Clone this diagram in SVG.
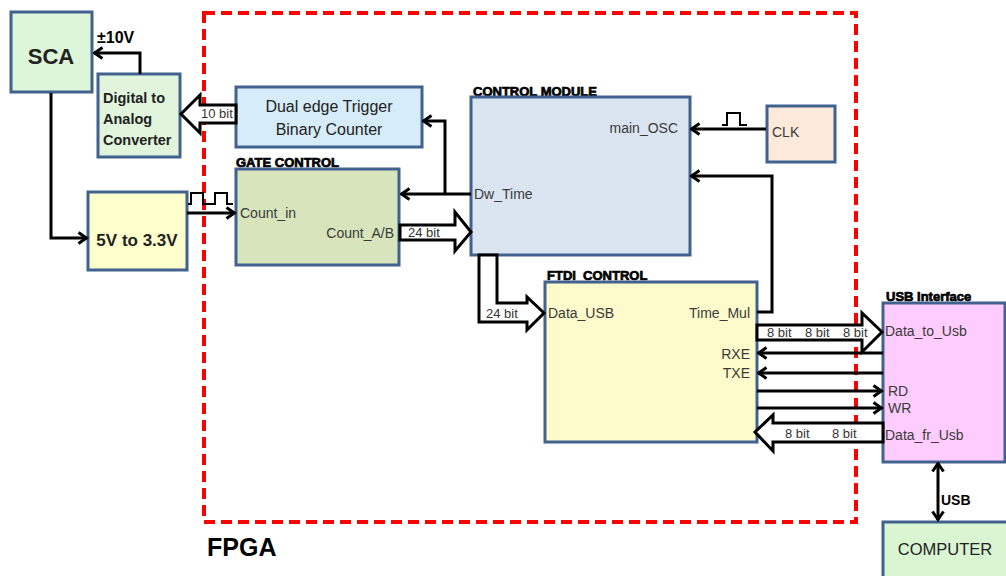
<svg xmlns="http://www.w3.org/2000/svg" width="1006" height="576" viewBox="0 0 1006 576">
<defs>
<style>
.box{stroke:#41628e;stroke-width:3}
.lbl{font-family:"Liberation Sans",Arial,sans-serif;font-size:14px;fill:#3a3a3a}
.big{font-family:"Liberation Sans",Arial,sans-serif;fill:#222}
.ttl{font-family:"Liberation Sans",Arial,sans-serif;font-size:13px;font-weight:bold;fill:#000;stroke:#000;stroke-width:0.7}
.bit{font-family:"Liberation Sans",Arial,sans-serif;font-size:13px;fill:#333}
.ln{fill:none;stroke:#000;stroke-width:3}
.pulse{fill:none;stroke:#000;stroke-width:2}
.hol{fill:#fff;stroke:#000;stroke-width:3;stroke-linejoin:miter}
</style>
<marker id="ah" viewBox="0 0 12 14" refX="10.5" refY="7" markerWidth="12" markerHeight="14" markerUnits="userSpaceOnUse" orient="auto-start-reverse">
<path d="M2,1.5 L10,7 L2,12.5" fill="none" stroke="#000" stroke-width="3"/>
</marker>
</defs>
<rect x="0" y="0" width="1006" height="576" fill="#fff"/>

<g id="fpga">
<rect x="204" y="13" width="652" height="509" fill="none" stroke="#ff0000" stroke-width="4" stroke-dasharray="11,6"/>
<text x="207" y="556" style="font-family:'Liberation Sans',Arial,sans-serif;font-size:25px;font-weight:bold" fill="#000">FPGA</text>
</g>

<g id="sca">
<rect class="box" x="11" y="12" width="81" height="80" fill="#ddf5d8"/>
<text class="big" x="51" y="64" text-anchor="middle" font-size="22" font-weight="bold">SCA</text>
</g>

<g id="dac">
<rect class="box" x="98" y="74" width="82" height="83" fill="#e0f5dc"/>
<text class="big" x="103" y="103" font-size="14.5" font-weight="bold">Digital to</text>
<text class="big" x="103" y="124" font-size="14.5" font-weight="bold">Analog</text>
<text class="big" x="103" y="145" font-size="14.5" font-weight="bold">Converter</text>
</g>
<text x="97" y="43" style="font-family:'Liberation Sans',Arial,sans-serif;font-size:16px;font-weight:bold" fill="#000">±10V</text>

<g id="lvl">
<rect class="box" x="88" y="192" width="99" height="78" fill="#ffffcc"/>
<text class="big" x="137" y="246" text-anchor="middle" font-size="17" font-weight="bold">5V to 3.3V</text>
</g>

<g id="dual">
<rect class="box" x="236" y="87" width="186" height="60" fill="#d6ecf8"/>
<text class="big" x="329" y="112" text-anchor="middle" font-size="16">Dual edge Trigger</text>
<text class="big" x="329" y="135" text-anchor="middle" font-size="16">Binary Counter</text>
</g>

<g id="gate">
<text class="ttl" x="236" y="167">GATE CONTROL</text>
<rect class="box" x="236" y="169" width="163" height="96" fill="#d7e4bc"/>
<text class="lbl" x="240" y="218">Count_in</text>
<text class="lbl" x="394" y="238" text-anchor="end">Count_A/B</text>
</g>

<g id="ctrl">
<text class="ttl" x="473" y="96">CONTROL MODULE</text>
<rect class="box" x="471" y="97" width="219" height="158" fill="#dbe5f1"/>
<text class="lbl" x="678" y="133" text-anchor="end">main_OSC</text>
<text class="lbl" x="474" y="199">Dw_Time</text>
</g>

<g id="clk">
<rect class="box" x="767" y="106" width="68" height="56" fill="#fde9d9"/>
<text class="lbl" x="772" y="137" font-size="13">CLK</text>
</g>

<g id="ftdi">
<text class="ttl" x="547" y="280">FTDI_CONTROL</text>
<rect class="box" x="545" y="282" width="212" height="160" fill="#fdfbcb"/>
<text class="lbl" x="548" y="318">Data_USB</text>
<text class="lbl" x="750" y="318" text-anchor="end">Time_Mul</text>
<text class="lbl" x="750" y="359" text-anchor="end">RXE</text>
<text class="lbl" x="750" y="378" text-anchor="end">TXE</text>
</g>

<g id="usb">
<text class="ttl" x="886" y="301">USB Interface</text>
<rect class="box" x="883" y="303" width="122" height="159" fill="#ffccff"/>
<text class="lbl" x="885" y="336">Data_to_Usb</text>
<text class="lbl" x="888" y="396">RD</text>
<text class="lbl" x="888" y="413">WR</text>
<text class="lbl" x="885" y="440">Data_fr_Usb</text>
</g>

<g id="computer">
<rect class="box" x="883" y="522" width="125" height="60" fill="#d9f5d2"/>
<text class="big" x="945" y="555" text-anchor="middle" font-size="16.5">COMPUTER</text>
</g>

<g id="connectors">
<path class="ln" d="M140,74 V53 H94" marker-end="url(#ah)"/>
<path class="ln" d="M51,93 V238 H87" marker-end="url(#ah)"/>
<path class="ln" d="M187,213 H235" marker-end="url(#ah)"/>
<polyline class="pulse" points="188,204 191,204 191,193 203,193 203,204 215,204 215,193 227,193 227,204 233,204"/>
<path class="ln" d="M471,194 H401" marker-end="url(#ah)"/>
<path class="ln" d="M445,194 V121 H423" marker-end="url(#ah)"/>
<path class="hol" d="M236,105 H200 V95 L181,114 L200,133 V123 H236 Z"/>
<text class="bit" x="201" y="118" font-size="11.5">10 bit</text>
<path class="hol" d="M400,225 H455 V212 L471,232 L455,251 V240 H400 Z"/>
<text class="bit" x="408" y="237">24 bit</text>
<path class="ln" d="M766,129 H691" marker-end="url(#ah)"/>
<polyline class="pulse" points="722,125 727,125 727,113 740,113 740,125 747,125"/>
<path class="ln" d="M757,312 H772 V176 H691" marker-end="url(#ah)"/>
<path class="hol" d="M479,255 V322 H527 V330 L544,313 L527,297 V303 H497 V255 Z"/>
<text class="bit" x="486" y="318">24 bit</text>
<path class="hol" d="M757,325 H862 V313 L882,332 L862,352 V340 H757 Z"/>
<text class="bit" x="767" y="337">8 bit</text>
<text class="bit" x="805" y="337">8 bit</text>
<text class="bit" x="843" y="337">8 bit</text>
<path class="ln" d="M883,353 H758" stroke-width="3.5" marker-end="url(#ah)"/>
<path class="ln" d="M883,373 H758" marker-end="url(#ah)"/>
<path class="ln" d="M757,391 H882" marker-end="url(#ah)"/>
<path class="ln" d="M757,408 H882" marker-end="url(#ah)"/>
<path class="hol" d="M883,423 H773 V415 L755,432 L773,451 V442 H883 Z"/>
<text class="bit" x="785" y="438">8 bit</text>
<text class="bit" x="832" y="438">8 bit</text>
<path class="ln" d="M938,463 V520" marker-start="url(#ah)" marker-end="url(#ah)"/>
<text x="941" y="505" style="font-family:'Liberation Sans',Arial,sans-serif;font-size:14px;font-weight:bold" fill="#000">USB</text>
</g>
</svg>
